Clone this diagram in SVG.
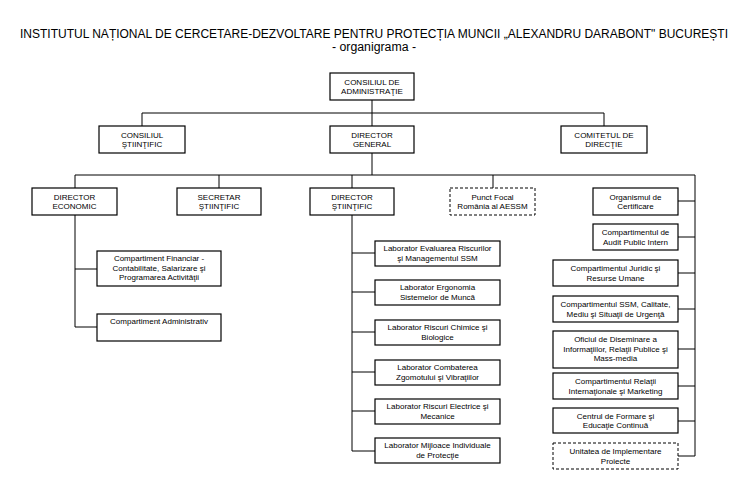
<svg xmlns="http://www.w3.org/2000/svg" width="750" height="486" viewBox="0 0 750 486">
<style>
.b{fill:#fff;stroke:#000;stroke-width:1.2}
.d{fill:#fff;stroke:#000;stroke-width:1;stroke-dasharray:3,2}
.t{font-family:"Liberation Sans",Arial,sans-serif;font-size:8px;fill:#000;text-anchor:middle}
.ti{font-family:"Liberation Sans",Arial,sans-serif;font-size:12px;fill:#000;text-anchor:middle}
.c{fill:none;stroke:#000;stroke-width:1}
</style>
<rect width="750" height="486" fill="#fff"/>
<text class="ti" x="374" y="38" textLength="708" lengthAdjust="spacingAndGlyphs">INSTITUTUL NAȚIONAL DE CERCETARE-DEZVOLTARE PENTRU PROTECȚIA MUNCII „ALEXANDRU DARABONT" BUCUREȘTI</text>
<text class="ti" x="374" y="51" textLength="84" lengthAdjust="spacingAndGlyphs">- organigrama -</text>
<g id="connectors">
<path class="c" d="M372,100V126M142,126V113H604V126M372,153V175M75,188V175H695V456M219,175V188M352,175V188M493,175V188"/>
<path class="c" d="M75,215V327H97M75,269H97"/>
<path class="c" d="M352,215V451H375M352,253H375M352,292H375M352,332H375M352,372H375M352,411H375"/>
<path class="c" d="M678,201H695M678,237H695M678,273H695M678,309H695M678,349H695M678,386H695M678,421H695M678,456H695"/>
</g>
<g id="cda"><rect class="b" x="330" y="73" width="84" height="27"/><text class="t" x="372" y="84.5">CONSILIUL DE</text><text class="t" x="372" y="94">ADMINISTRAŢIE</text></g>
<g id="cs"><rect class="b" x="99" y="126" width="86" height="27"/><text class="t" x="142" y="137.5">CONSILIUL</text><text class="t" x="142" y="147">ŞTIINŢIFIC</text></g>
<g id="dg"><rect class="b" x="330" y="126" width="84" height="27"/><text class="t" x="372" y="137.5">DIRECTOR</text><text class="t" x="372" y="147">GENERAL</text></g>
<g id="cd"><rect class="b" x="561" y="126" width="86" height="27"/><text class="t" x="604" y="137.5">COMITETUL DE</text><text class="t" x="604" y="147">DIRECŢIE</text></g>
<g id="de"><rect class="b" x="32" y="188" width="85" height="27"/><text class="t" x="74.5" y="199.5">DIRECTOR</text><text class="t" x="74.5" y="209">ECONOMIC</text></g>
<g id="ss"><rect class="b" x="177" y="188" width="84" height="27"/><text class="t" x="219" y="199.5">SECRETAR</text><text class="t" x="219" y="209">ŞTIINŢIFIC</text></g>
<g id="ds"><rect class="b" x="310" y="188" width="84" height="27"/><text class="t" x="352" y="199.5">DIRECTOR</text><text class="t" x="352" y="209">ŞTIINŢIFIC</text></g>
<g id="pf"><rect class="d" x="450" y="188" width="85" height="27"/><text class="t" x="492.5" y="199.5">Punct Focal</text><text class="t" x="492.5" y="209">România al AESSM</text></g>
<g id="cf"><rect class="b" x="97" y="251" width="124" height="35"/><text class="t" x="159" y="261">Compartiment Financiar -</text><text class="t" x="159" y="270.5">Contabilitate, Salarizare şi</text><text class="t" x="159" y="280">Programarea Activităţii</text></g>
<g id="ca"><rect class="b" x="97" y="314" width="124" height="27"/><text class="t" x="159" y="324">Compartiment Administrativ</text></g>
<g id="lab1"><rect class="b" x="375" y="241" width="125" height="25"/><text class="t" x="437.5" y="251">Laborator Evaluarea Riscurilor</text><text class="t" x="437.5" y="260.5">şi Managementul SSM</text></g>
<g id="lab2"><rect class="b" x="375" y="280" width="125" height="25"/><text class="t" x="437.5" y="290">Laborator Ergonomia</text><text class="t" x="437.5" y="299.5">Sistemelor de Muncă</text></g>
<g id="lab3"><rect class="b" x="375" y="320" width="125" height="25"/><text class="t" x="437.5" y="330">Laborator Riscuri Chimice şi</text><text class="t" x="437.5" y="339.5">Biologice</text></g>
<g id="lab4"><rect class="b" x="375" y="360" width="125" height="25"/><text class="t" x="437.5" y="370">Laborator Combaterea</text><text class="t" x="437.5" y="379.5">Zgomotului şi Vibraţiilor</text></g>
<g id="lab5"><rect class="b" x="375" y="399" width="125" height="25"/><text class="t" x="437.5" y="409">Laborator Riscuri Electrice şi</text><text class="t" x="437.5" y="418.5">Mecanice</text></g>
<g id="lab6"><rect class="b" x="375" y="438" width="125" height="25"/><text class="t" x="437.5" y="448">Laborator Mijloace Individuale</text><text class="t" x="437.5" y="457.5">de Protecţie</text></g>
<g id="oc"><rect class="b" x="593" y="188" width="85" height="27"/><text class="t" x="635.5" y="199.5">Organismul de</text><text class="t" x="635.5" y="209">Certificare</text></g>
<g id="api"><rect class="b" x="593" y="224" width="85" height="26"/><text class="t" x="635.5" y="235">Compartimentul de</text><text class="t" x="635.5" y="244.5">Audit Public Intern</text></g>
<g id="jur"><rect class="b" x="553" y="260" width="125" height="26"/><text class="t" x="615.5" y="271">Compartimentul Juridic şi</text><text class="t" x="615.5" y="280.5">Resurse Umane</text></g>
<g id="ssm"><rect class="b" x="553" y="296" width="125" height="26"/><text class="t" x="615.5" y="307">Compartimentul SSM, Calitate,</text><text class="t" x="615.5" y="316.5">Mediu şi Situaţii de Urgenţă</text></g>
<g id="odi"><rect class="b" x="553" y="331" width="125" height="37"/><text class="t" x="615.5" y="342">Oficiul de Diseminare a</text><text class="t" x="615.5" y="351.5">Informaţiilor, Relaţii Publice şi</text><text class="t" x="615.5" y="361">Mass-media</text></g>
<g id="cri"><rect class="b" x="553" y="373" width="125" height="26"/><text class="t" x="615.5" y="384">Compartimentul Relaţii</text><text class="t" x="615.5" y="393.5">Internaţionale şi Marketing</text></g>
<g id="cfe"><rect class="b" x="553" y="408" width="125" height="25"/><text class="t" x="615.5" y="418.5">Centrul de Formare şi</text><text class="t" x="615.5" y="428">Educaţie Continuă</text></g>
<g id="uip"><rect class="d" x="553" y="443" width="125" height="26"/><text class="t" x="615.5" y="454">Unitatea de Implementare</text><text class="t" x="615.5" y="463.5">Proiecte</text></g>
</svg>
